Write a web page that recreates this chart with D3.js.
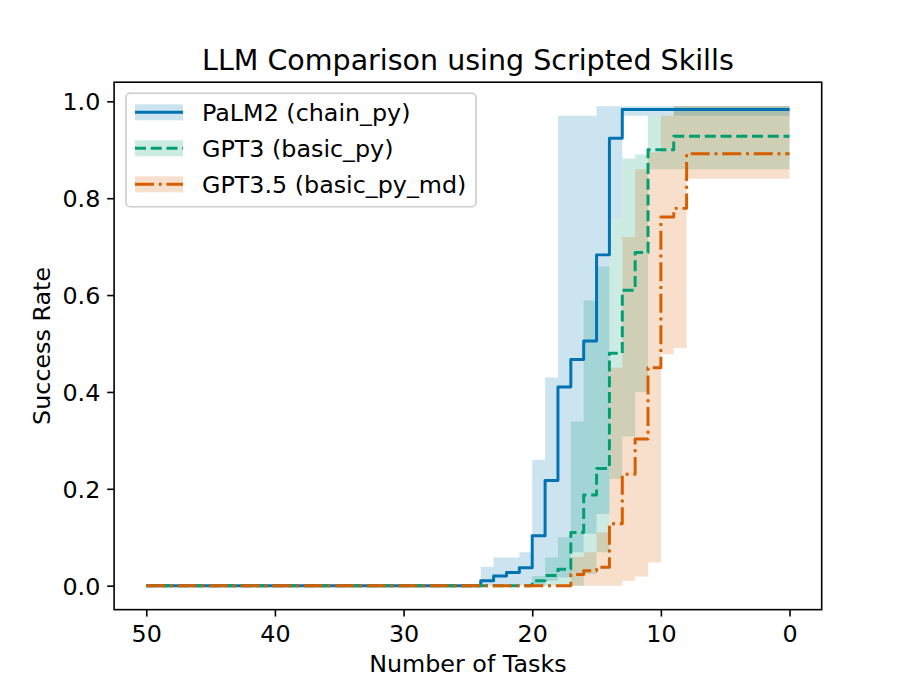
<!DOCTYPE html>
<html><head><meta charset="utf-8">
<script src="https://cdn.jsdelivr.net/npm/d3@7"></script>
<style>
body{margin:0;background:#fff}
svg{display:block}
text{font-family:"DejaVu Sans",sans-serif;fill:#000}
</style>
</head><body>
<svg id="chart" width="913" height="685"></svg>
<script>
// Number of tasks at each step (x axis, reversed) — values hold until the next entry
const tasks = [50, 24, 23, 22, 21, 20, 19, 18, 17, 16, 15, 14, 13, 12, 11, 10, 9, 8, 0];

// PaLM2 (chain_py)
const palmMean  = [0, 0.010, 0.020, 0.027, 0.037, 0.103, 0.217, 0.410, 0.467, 0.505, 0.683, 0.924, 0.983, 0.983, 0.983, 0.983, 0.983, 0.983, 0.983];
const palmLower = [0, 0, 0, 0, 0, 0, 0.010, 0.017, 0.069, 0.107, 0.148, 0.758, 0.970, 0.970, 0.970, 0.970, 0.970, 0.970, 0.970];
const palmUpper = [0, 0.039, 0.058, 0.058, 0.069, 0.260, 0.430, 0.970, 0.970, 0.970, 0.990, 0.990, 0.990, 0.990, 0.990, 0.990, 0.990, 0.990, 0.990];

// GPT3 (basic_py)
const gpt3Mean  = [0, 0, 0, 0, 0, 0.010, 0.021, 0.034, 0.110, 0.187, 0.242, 0.480, 0.610, 0.688, 0.900, 0.900, 0.928, 0.928, 0.928];
const gpt3Lower = [0, 0, 0, 0, 0, 0, 0, 0, 0, 0.024, 0.069, 0.220, 0.308, 0.400, 0.860, 0.860, 0.860, 0.860, 0.860];
const gpt3Upper = [0, 0, 0, 0, 0, 0.020, 0.058, 0.100, 0.339, 0.589, 0.659, 0.758, 0.882, 0.890, 0.970, 0.970, 0.990, 0.990, 0.990];

// GPT3.5 (basic_py_md)
const gpt35Mean  = [0, 0, 0, 0, 0, 0, 0, 0, 0.023, 0.031, 0.038, 0.128, 0.230, 0.303, 0.450, 0.761, 0.779, 0.892, 0.892];
const gpt35Lower = [0, 0, 0, 0, 0, 0, 0, 0, 0, 0, 0, 0, 0.010, 0.019, 0.048, 0.478, 0.490, 0.840, 0.840];
const gpt35Upper = [0, 0, 0, 0, 0, 0, 0, 0, 0.059, 0.069, 0.110, 0.450, 0.720, 0.860, 0.895, 0.970, 0.990, 0.990, 0.990];

const seriesNames = ["PaLM2 (chain_py)", "GPT3 (basic_py)", "GPT3.5 (basic_py_md)"];
const xTicks = [50, 40, 30, 20, 10, 0];
const yTicks = [0.0, 0.2, 0.4, 0.6, 0.8, 1.0];
const titleText = "LLM Comparison using Scripted Skills";
const xLabel = "Number of Tasks";
const yLabel = "Success Rate";

const colors = ["#0173b2", "#029e73", "#d55e00"];
const dashes = [null, "11,4.75", "19,4.75,3,4.75"];

const series = [
  {name: seriesNames[0], mean: palmMean, lo: palmLower, hi: palmUpper},
  {name: seriesNames[1], mean: gpt3Mean, lo: gpt3Lower, hi: gpt3Upper},
  {name: seriesNames[2], mean: gpt35Mean, lo: gpt35Lower, hi: gpt35Upper}
];

const L = 114.1, R = 821.7, T = 82.2, B = 609.65;
const FS = 23.8;
const svg = d3.select("#chart");

const x = d3.scaleLinear().domain([52.5, -2.5]).range([L, R]);
const y = d3.scaleLinear().domain([-0.0495, 1.0395]).range([B, T]);

const area = d3.area()
  .x(d => x(d.t)).y0(d => y(d.lo)).y1(d => y(d.hi))
  .curve(d3.curveStepAfter);
const line = d3.line()
  .x(d => x(d.t)).y(d => y(d.v))
  .curve(d3.curveStepAfter);

const plot = svg.append("g");
// fills (below lines)
series.forEach((s, i) => {
  const pts = tasks.map((t, j) => ({t, lo: s.lo[j], hi: s.hi[j]}));
  plot.append("path").attr("d", area(pts))
    .attr("fill", colors[i]).attr("fill-opacity", 0.2).attr("stroke", "none");
});
// lines
series.forEach((s, i) => {
  const pts = tasks.map((t, j) => ({t, v: s.mean[j]}));
  const p = plot.append("path").attr("d", line(pts))
    .attr("fill", "none").attr("stroke", colors[i])
    .attr("stroke-width", 2.97).attr("stroke-linejoin", "round");
  if (dashes[i]) p.attr("stroke-dasharray", dashes[i]);
});

// axes
const yAxis = d3.axisLeft(y).tickValues(yTicks).tickFormat(d3.format(".1f"))
  .tickSize(6.9).tickPadding(6.9);
const xAxis = d3.axisBottom(x).tickValues(xTicks).tickFormat(d3.format("d"))
  .tickSize(6.9).tickPadding(6.9);

const gy = svg.append("g").attr("transform", `translate(${L},0)`).call(yAxis);
const gx = svg.append("g").attr("transform", `translate(0,${B})`).call(xAxis);
[gx, gy].forEach(g => {
  g.select(".domain").remove();
  g.selectAll(".tick line").attr("stroke", "#000").attr("stroke-width", 1.6);
  g.selectAll(".tick text").attr("font-size", FS).attr("font-family", "DejaVu Sans").attr("fill", "#000");
});
gx.selectAll(".tick text").attr("dy", "0.76em");
gy.selectAll(".tick text").attr("dy", "0.36em");

// frame
svg.append("rect").attr("x", L).attr("y", T).attr("width", R - L).attr("height", B - T)
  .attr("fill", "none").attr("stroke", "#000").attr("stroke-width", 1.6);

// title & labels
svg.append("text").attr("x", (L + R) / 2).attr("y", 70).attr("text-anchor", "middle")
  .attr("font-size", 28.5).text(titleText);
svg.append("text").attr("x", (L + R) / 2).attr("y", 672).attr("text-anchor", "middle")
  .attr("font-size", FS).text(xLabel);
svg.append("text").attr("transform", `translate(50,${(T + B) / 2}) rotate(-90)`)
  .attr("text-anchor", "middle").attr("font-size", FS).text(yLabel);

// legend
const lg = svg.append("g");
lg.append("rect").attr("x", 126).attr("y", 93.3).attr("width", 350).attr("height", 113.4)
  .attr("rx", 4).attr("ry", 4)
  .attr("fill", "#fff").attr("fill-opacity", 0.8).attr("stroke", "#cccccc").attr("stroke-width", 1.6);
series.forEach((s, i) => {
  const cy = 112.3 + i * 36;
  lg.append("rect").attr("x", 135).attr("y", cy - 8).attr("width", 48).attr("height", 16)
    .attr("fill", colors[i]).attr("fill-opacity", 0.2);
  const l = lg.append("line").attr("x1", 135).attr("x2", 183).attr("y1", cy).attr("y2", cy)
    .attr("stroke", colors[i]).attr("stroke-width", 2.97);
  if (dashes[i]) l.attr("stroke-dasharray", dashes[i]);
  lg.append("text").attr("x", 202).attr("y", cy + 8.5).attr("font-size", FS).text(s.name);
});
</script>
</body></html>
